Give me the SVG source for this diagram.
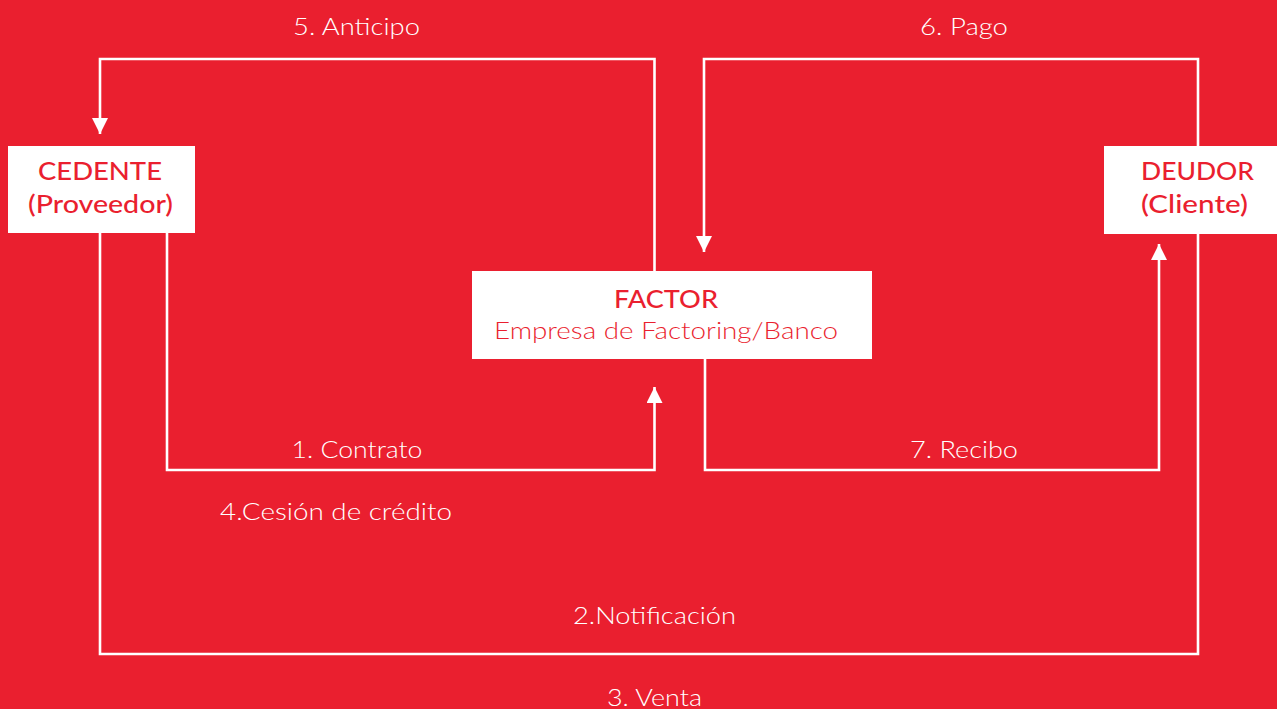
<svg xmlns="http://www.w3.org/2000/svg" width="1277" height="709" viewBox="0 0 1277 709">
<style>
.bg{fill:#EA1F2F}
.box{fill:#FFFFFF}
.conn{fill:none;stroke:#FFFFFF;stroke-width:2.6}
.lbl{font-family:Lato,"Open Sans","Liberation Sans",sans-serif;font-size:24px;fill:#FFFFFF;text-anchor:middle;font-weight:300}
.ttl{font-family:Lato,"Open Sans","Liberation Sans",sans-serif;font-size:24px;fill:#EA1F2F;text-anchor:middle;font-weight:500}
.sub{font-family:Lato,"Open Sans","Liberation Sans",sans-serif;font-size:24px;fill:#EA1F2F;text-anchor:middle;font-weight:300}
</style>
<defs>
<marker id="arr" viewBox="0 0 16 16" refX="16" refY="8" markerWidth="16" markerHeight="16" markerUnits="userSpaceOnUse" orient="auto">
<path d="M0,0 L16,8 L0,16 Z" fill="#FFFFFF"/>
</marker>
</defs>
<rect class="bg" x="0" y="0" width="1277" height="709"/>
<g id="connectors">
<path id="c-anticipo" class="conn" d="M654.5,271 V59 H100 V134" marker-end="url(#arr)"/>
<path id="c-pago" class="conn" d="M1198,146 V59 H704 V252" marker-end="url(#arr)"/>
<path id="c-contrato" class="conn" d="M167,233 V470 H654.5 V387" marker-end="url(#arr)"/>
<path id="c-recibo" class="conn" d="M705,359 V470 H1159 V244" marker-end="url(#arr)"/>
<path id="c-venta" class="conn" d="M100,233 V654 H1198 V233"/>
<text class="lbl" x="356.5" y="35" textLength="127" lengthAdjust="spacingAndGlyphs">5. Anticipo</text>
<text class="lbl" x="964" y="35" textLength="88" lengthAdjust="spacingAndGlyphs">6. Pago</text>
<text class="lbl" x="357" y="457.5" textLength="131" lengthAdjust="spacingAndGlyphs">1. Contrato</text>
<text class="lbl" x="964" y="457.5" textLength="108" lengthAdjust="spacingAndGlyphs">7. Recibo</text>
<text class="lbl" x="336" y="519.5" textLength="232" lengthAdjust="spacingAndGlyphs">4.Cesión de crédito</text>
<text class="lbl" x="654.5" y="624" textLength="163" lengthAdjust="spacingAndGlyphs">2.Notificación</text>
<text class="lbl" x="654.5" y="705.5" textLength="95" lengthAdjust="spacingAndGlyphs">3. Venta</text>
</g>
<g id="cedente">
<rect class="box" x="8" y="146" width="187" height="87"/>
<text class="ttl" x="100" y="180" textLength="124" lengthAdjust="spacingAndGlyphs">CEDENTE</text>
<text class="ttl" x="100.5" y="213" textLength="145" lengthAdjust="spacingAndGlyphs">(Proveedor)</text>
</g>
<g id="deudor">
<rect class="box" x="1104" y="146" width="173" height="88"/>
<text class="ttl" x="1197.5" y="180" textLength="113" lengthAdjust="spacingAndGlyphs">DEUDOR</text>
<text class="ttl" x="1194.5" y="213" textLength="107" lengthAdjust="spacingAndGlyphs">(Cliente)</text>
</g>
<g id="factor">
<rect class="box" x="472" y="271" width="400" height="88"/>
<text class="ttl" x="666" y="308" textLength="104" lengthAdjust="spacingAndGlyphs">FACTOR</text>
<text class="sub" x="666" y="339" textLength="344" lengthAdjust="spacingAndGlyphs">Empresa de Factoring/Banco</text>
</g>
</svg>
